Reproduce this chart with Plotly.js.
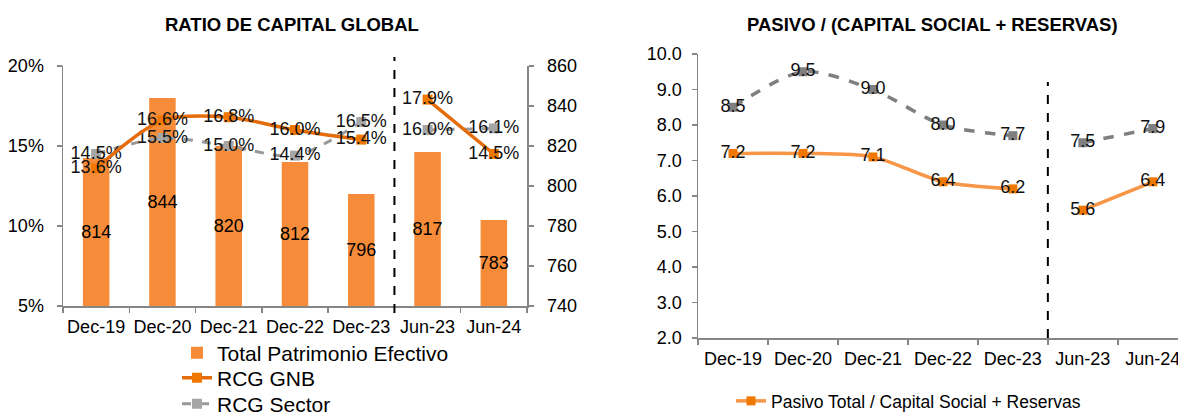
<!DOCTYPE html>
<html>
<head>
<meta charset="utf-8">
<script src="https://cdn.plot.ly/plotly-3.0.1.min.js"></script>
<style>html,body{margin:0;padding:0;background:#fff;}#chart{width:1178px;height:414px;}</style>
</head>
<body>
<div id="chart"></div>
<script>
// ---- Data ----
const categories = ['Dec-19','Dec-20','Dec-21','Dec-22','Dec-23','Jun-23','Jun-24'];
const patrimonioEfectivo = [814, 844, 820, 812, 796, 817, 783];
const rcgGNB = [13.6, 16.6, 16.8, 16.0, 15.4, 17.9, 14.5];
const rcgSector = [14.5, 15.5, 15.0, 14.4, 16.5, 16.0, 16.1];
const pasivoGNB = [7.2, 7.2, 7.1, 6.4, 6.2, 5.6, 6.4];
const pasivoSector = [8.5, 9.5, 9.0, 8.0, 7.7, 7.5, 7.9];
const splitIndex = 5; // annual (Dec) vs semester (Jun) periods

// ---- Styles ----
const W = 1178, H = 414;
const FONT = 'Liberation Sans, Arial, sans-serif';
const AXIS_COLOR = '#868686';
const BAR_COLOR = '#F68C3A';
const BAR_FLOOR = 740; // right-axis minimum, bars start here
const GNB_LINE = '#E46C0A';
const GNB_MARK = '#F07800';
const SECT_LINE_L = '#999999';
const SECT_MARK_L = '#A6A6A6';
const SECT_LINE_R = '#7F7F7F';
const PAS_LINE = '#F79646';

function seg(arr, part) { return part === 0 ? arr.slice(0, splitIndex) : arr.slice(splitIndex); }

const traces = [];

// Left chart: bars
traces.push({
  type: 'bar', x: categories, y: patrimonioEfectivo.map(v => v - BAR_FLOOR), base: BAR_FLOOR,
  xaxis: 'x', yaxis: 'y',
  name: 'Total Patrimonio Efectivo', marker: {color: BAR_COLOR},
  text: patrimonioEfectivo.map(String), textposition: 'inside', insidetextanchor: 'middle',
  textangle: 0, constraintext: 'none', textfont: {family: FONT, size: 18, color: '#000'},
  legend: 'legend'
});

// Left chart: sector and GNB lines (two segments each)
[0, 1].forEach(p => {
  traces.push({
    type: 'scatter', mode: 'lines+markers+text', x: seg(categories, p), y: seg(rcgSector, p),
    xaxis: 'x', yaxis: 'y2', name: 'RCG Sector', showlegend: p === 0, legend: 'legend4',
    line: {color: SECT_LINE_L, width: 3, dash: 'dash', shape: 'spline', smoothing: 0.8},
    marker: {symbol: 'square', size: 10, color: SECT_MARK_L},
    text: seg(rcgSector, p).map(v => v.toFixed(1) + '%'), textposition: 'middle center',
    textfont: {family: FONT, size: 18, color: '#111'}
  });
});
[0, 1].forEach(p => {
  traces.push({
    type: 'scatter', mode: 'lines+markers+text', x: seg(categories, p), y: seg(rcgGNB, p),
    xaxis: 'x', yaxis: 'y2', name: 'RCG GNB', showlegend: p === 0, legend: 'legend3',
    line: {color: GNB_LINE, width: 3.5, shape: 'spline', smoothing: 0.8},
    marker: {symbol: 'square', size: 10, color: GNB_MARK},
    text: seg(rcgGNB, p).map(v => v.toFixed(1) + '%'), textposition: 'middle center',
    textfont: {family: FONT, size: 18, color: '#111'}
  });
});

// Right chart
[0, 1].forEach(p => {
  traces.push({
    type: 'scatter', mode: 'lines+markers+text', x: seg(categories, p), y: seg(pasivoSector, p),
    xaxis: 'x3', yaxis: 'y3', name: 'Sector', showlegend: false,
    line: {color: SECT_LINE_R, width: 3.5, dash: 'dash', shape: 'spline', smoothing: 0.8},
    marker: {symbol: 'square', size: 9, color: SECT_LINE_R},
    text: seg(pasivoSector, p).map(v => v.toFixed(1)), textposition: 'middle center',
    textfont: {family: FONT, size: 18, color: '#111'}
  });
});
[0, 1].forEach(p => {
  traces.push({
    type: 'scatter', mode: 'lines+markers+text', x: seg(categories, p), y: seg(pasivoGNB, p),
    xaxis: 'x3', yaxis: 'y3', name: 'Pasivo Total / Capital Social + Reservas',
    showlegend: p === 0, legend: 'legend2',
    line: {color: PAS_LINE, width: 3.5, shape: 'spline', smoothing: 0.8},
    marker: {symbol: 'square', size: 9, color: GNB_MARK},
    text: seg(pasivoGNB, p).map(v => v.toFixed(1)), textposition: 'middle center',
    textfont: {family: FONT, size: 18, color: '#111'}
  });
});

const axBase = {
  showline: true, linecolor: AXIS_COLOR, linewidth: 1.5, ticks: 'outside', ticklen: 5,
  tickcolor: AXIS_COLOR, tickwidth: 1.5, showgrid: false, zeroline: false,
  tickfont: {family: FONT, size: 18, color: '#000'}, fixedrange: true
};

function leg(xpx, ypx, size) {
  return {x: xpx / W, y: (H - ypx) / H, xanchor: 'left', yanchor: 'middle',
    font: {family: FONT, size: size, color: '#000'}, bgcolor: 'rgba(0,0,0,0)', borderwidth: 0};
}

const layout = {
  width: W, height: H, margin: {l: 0, r: 0, t: 0, b: 0, pad: 0, autoexpand: false},
  paper_bgcolor: '#fff', plot_bgcolor: 'rgba(0,0,0,0)',
  font: {family: FONT, size: 18, color: '#000'},
  bargap: 0.6, showlegend: true, hovermode: false,
  xaxis: Object.assign({}, axBase, {domain: [63 / W, 527 / W], anchor: 'y', type: 'category',
    range: [-0.5, 6.5], tickson: 'boundaries', tickangle: 0, ticklabelstandoff: 4}),
  yaxis: Object.assign({}, axBase, {domain: [108 / H, 348 / H], anchor: 'x', side: 'right',
    range: [740, 860], dtick: 20, tick0: 740, ticklabelstandoff: 10}),
  yaxis2: Object.assign({}, axBase, {overlaying: 'y', anchor: 'x', side: 'left',
    range: [5, 20], dtick: 5, tick0: 5, ticksuffix: '%', ticklabelstandoff: 9}),
  xaxis3: Object.assign({}, axBase, {domain: [698 / W, 1], anchor: 'y3', type: 'category',
    range: [-0.5, 6.36], tickson: 'boundaries', tickangle: 0, ticklabelstandoff: 4}),
  yaxis3: Object.assign({}, axBase, {domain: [76 / H, 360 / H], anchor: 'x3',
    range: [2, 10], dtick: 1, tick0: 2, tickformat: '.1f', ticklabelstandoff: 6}),
  legend: leg(177, 353, 21),
  legend3: leg(177, 378, 21),
  legend4: leg(177, 404, 21),
  legend2: leg(731, 401, 17.5),
  annotations: [
    {text: '<b>RATIO DE CAPITAL GLOBAL</b>', xref: 'paper', yref: 'paper', x: 291.5 / W, y: (H - 24) / H,
      xanchor: 'center', yanchor: 'middle', showarrow: false, font: {family: FONT, size: 18.5, color: '#000'}},
    {text: '<b>PASIVO / (CAPITAL SOCIAL + RESERVAS)</b>', xref: 'paper', yref: 'paper', x: 932 / W, y: (H - 24) / H,
      xanchor: 'center', yanchor: 'middle', showarrow: false, font: {family: FONT, size: 18.5, color: '#000'}}
  ],
  shapes: [
    {type: 'line', xref: 'x', yref: 'paper', x0: splitIndex - 0.5, x1: splitIndex - 0.5,
      y0: (H - 313) / H, y1: (H - 57) / H, line: {color: '#000', width: 2, dash: 'dash'}},
    {type: 'line', xref: 'x3', yref: 'paper', x0: splitIndex - 0.5, x1: splitIndex - 0.5,
      y0: (H - 338) / H, y1: (H - 82) / H, line: {color: '#000', width: 2, dash: 'dash'}}
  ]
};

Plotly.newPlot('chart', traces, layout, {staticPlot: true, displayModeBar: false});
</script>
</body>
</html>
